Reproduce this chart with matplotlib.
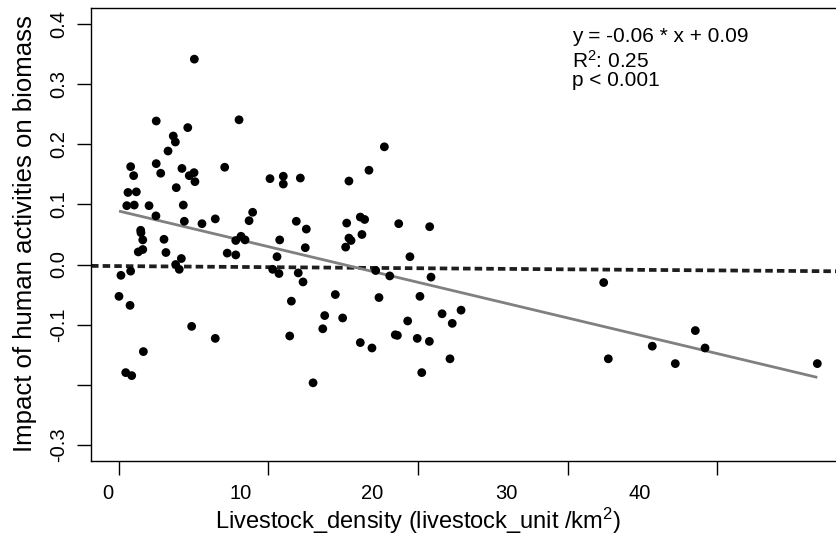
import matplotlib
matplotlib.use("Agg")
import matplotlib.pyplot as plt
import numpy as np

plt.rcParams['font.family'] = ['Liberation Sans', 'DejaVu Sans']

# ---------------- data ----------------
livestock_density = [
    5.04, 2.49, 8.03, 4.60, 3.63, 3.77, 3.28, 17.75, 0.78, 0.98,
    2.49, 2.79, 4.21, 4.70, 5.02, 5.08, 7.07, 16.72, 10.10, 10.99,
    10.99, 12.13, 15.38, 3.83, 0.60, 1.16, 0.52, 1.02, 2.01, 4.30,
    2.47, 4.37, 5.55, 6.44, 8.94, 8.70, 11.86, 12.53, 15.23, 16.14,
    16.43, 18.71, 1.45, 1.47, 1.59, 3.01, 8.16, 8.43, 7.81, 10.75,
    15.38, 15.52, 16.25, 15.16, 12.46, 1.29, 1.59, 3.14, 4.17, 3.79,
    4.03, 0.13, 0.78, 0.00, 0.74, 4.86, 6.44, 1.63, 0.45, 0.85,
    7.24, 7.81, 10.57, 10.28, 10.70, 11.99, 12.31, 11.53, 14.47, 13.76,
    14.96, 13.63, 11.42, 12.98, 17.17, 18.11, 17.39, 16.14, 16.92, 18.48,
    18.62, 19.31, 19.46, 20.78, 20.87, 20.13, 21.61, 22.88, 22.29, 19.95,
    20.76, 22.14, 20.25, 32.42, 32.73, 35.67, 37.21, 38.55, 39.20, 46.71,
]
impact = [
    0.342, 0.239, 0.241, 0.228, 0.214, 0.204, 0.189, 0.196, 0.163, 0.148,
    0.168, 0.152, 0.160, 0.148, 0.153, 0.138, 0.162, 0.157, 0.143, 0.147,
    0.134, 0.144, 0.139, 0.128, 0.120, 0.121, 0.098, 0.099, 0.098, 0.099,
    0.081, 0.072, 0.068, 0.076, 0.087, 0.073, 0.072, 0.059, 0.069, 0.079,
    0.075, 0.068, 0.057, 0.053, 0.041, 0.042, 0.047, 0.041, 0.040, 0.041,
    0.044, 0.040, 0.050, 0.029, 0.028, 0.021, 0.025, 0.020, 0.010, 0.000,
    -0.008, -0.018, -0.011, -0.053, -0.068, -0.103, -0.123, -0.145, -0.180, -0.185,
    0.019, 0.016, 0.013, -0.008, -0.015, -0.014, -0.029, -0.061, -0.050, -0.085,
    -0.089, -0.107, -0.119, -0.197, -0.010, -0.019, -0.055, -0.130, -0.139, -0.117,
    -0.118, -0.094, 0.013, 0.063, -0.021, -0.053, -0.082, -0.076, -0.098, -0.123,
    -0.128, -0.157, -0.180, -0.030, -0.157, -0.136, -0.165, -0.110, -0.139, -0.165,
]

fit_intercept = 0.089
fit_slope = -0.00593
ref_intercept = -0.0026
ref_slope = -0.00018

x_tick_marks = [0, 10, 20, 30, 40]
x_tick_labels = ['0', '10', '20', '30', '40']
y_ticks = [0.4, 0.3, 0.2, 0.1, 0.0, -0.1, -0.2, -0.3]
y_tick_labels = ['0.4', '0.3', '0.2', '0.1', '0.0', '-0.1', '', '-0.3']

eq_text = 'y = -0.06 * x + 0.09'
r2_text = r'R$\mathregular{^2}$: 0.25'
p_text = 'p < 0.001'
x_label = r'Livestock_density (livestock_unit /km$\mathregular{^2}$)'
y_label = 'Impact of human activities on biomass'

# ---------------- layout ----------------
# x tick labels in the reference sit on a slightly compressed grid
x_label_positions = [-0.72, 8.16, 16.92, 25.89, 34.85]

fig = plt.figure(figsize=(8.36, 5.40), dpi=100)
ax = fig.add_axes([0.1089, 0.1454, 0.9022, 0.8407])

x = np.array(livestock_density)
y = np.array(impact)

# dashed reference line
ax.axline((0, ref_intercept), slope=ref_slope, color='#1e1e1e', lw=2.7,
          dashes=(2.0, 1.1), zorder=2)

# regression line over data range
xr = np.array([x.min(), x.max()])
ax.plot(xr, fit_intercept + fit_slope * xr, color='#808080', lw=2.0,
        solid_capstyle='butt', zorder=3)

ax.scatter(x, y, s=40, color='black', edgecolors='none', zorder=4)

ax.set_xlim(-1.87, 48.58)
ax.set_ylim(-0.328, 0.428)

for sp in ax.spines.values():
    sp.set_linewidth(1.0)
    sp.set_color('black')

# x ticks: marks at data positions, labels at offset positions
ax.set_xticks(x_label_positions)
ax.set_xticklabels(x_tick_labels)
ax.set_xticks(x_tick_marks, minor=True)
ax.tick_params(axis='x', which='major', length=0, pad=16.0, labelsize=14.5)
ax.tick_params(axis='x', which='minor', length=10, width=1.0, direction='out')

ax.set_yticks(y_ticks)
ax.set_yticklabels(y_tick_labels)
ax.tick_params(axis='y', which='major', length=10, width=1.0, direction='out',
               pad=6.5, labelsize=14.5)
for lab in ax.get_yticklabels():
    lab.set_rotation(90)
    lab.set_va('center')

fig.text(571.7 / 836, 1 - 42.0 / 540, eq_text, fontsize=15, ha='left', va='baseline')
fig.text(571.7 / 836, 1 - 67.8 / 540, r2_text, fontsize=15, ha='left', va='baseline')
fig.text(571.7 / 836, 1 - 85.5 / 540, p_text, fontsize=15, ha='left', va='baseline')

fig.text(418 / 836, 1 - 529 / 540, x_label, fontsize=17, ha='center', va='baseline')
fig.text(25 / 836, 1 - 234 / 540, y_label, fontsize=18.5, ha='center', va='center',
         rotation=90)

fig.savefig('out.png', dpi=100)
